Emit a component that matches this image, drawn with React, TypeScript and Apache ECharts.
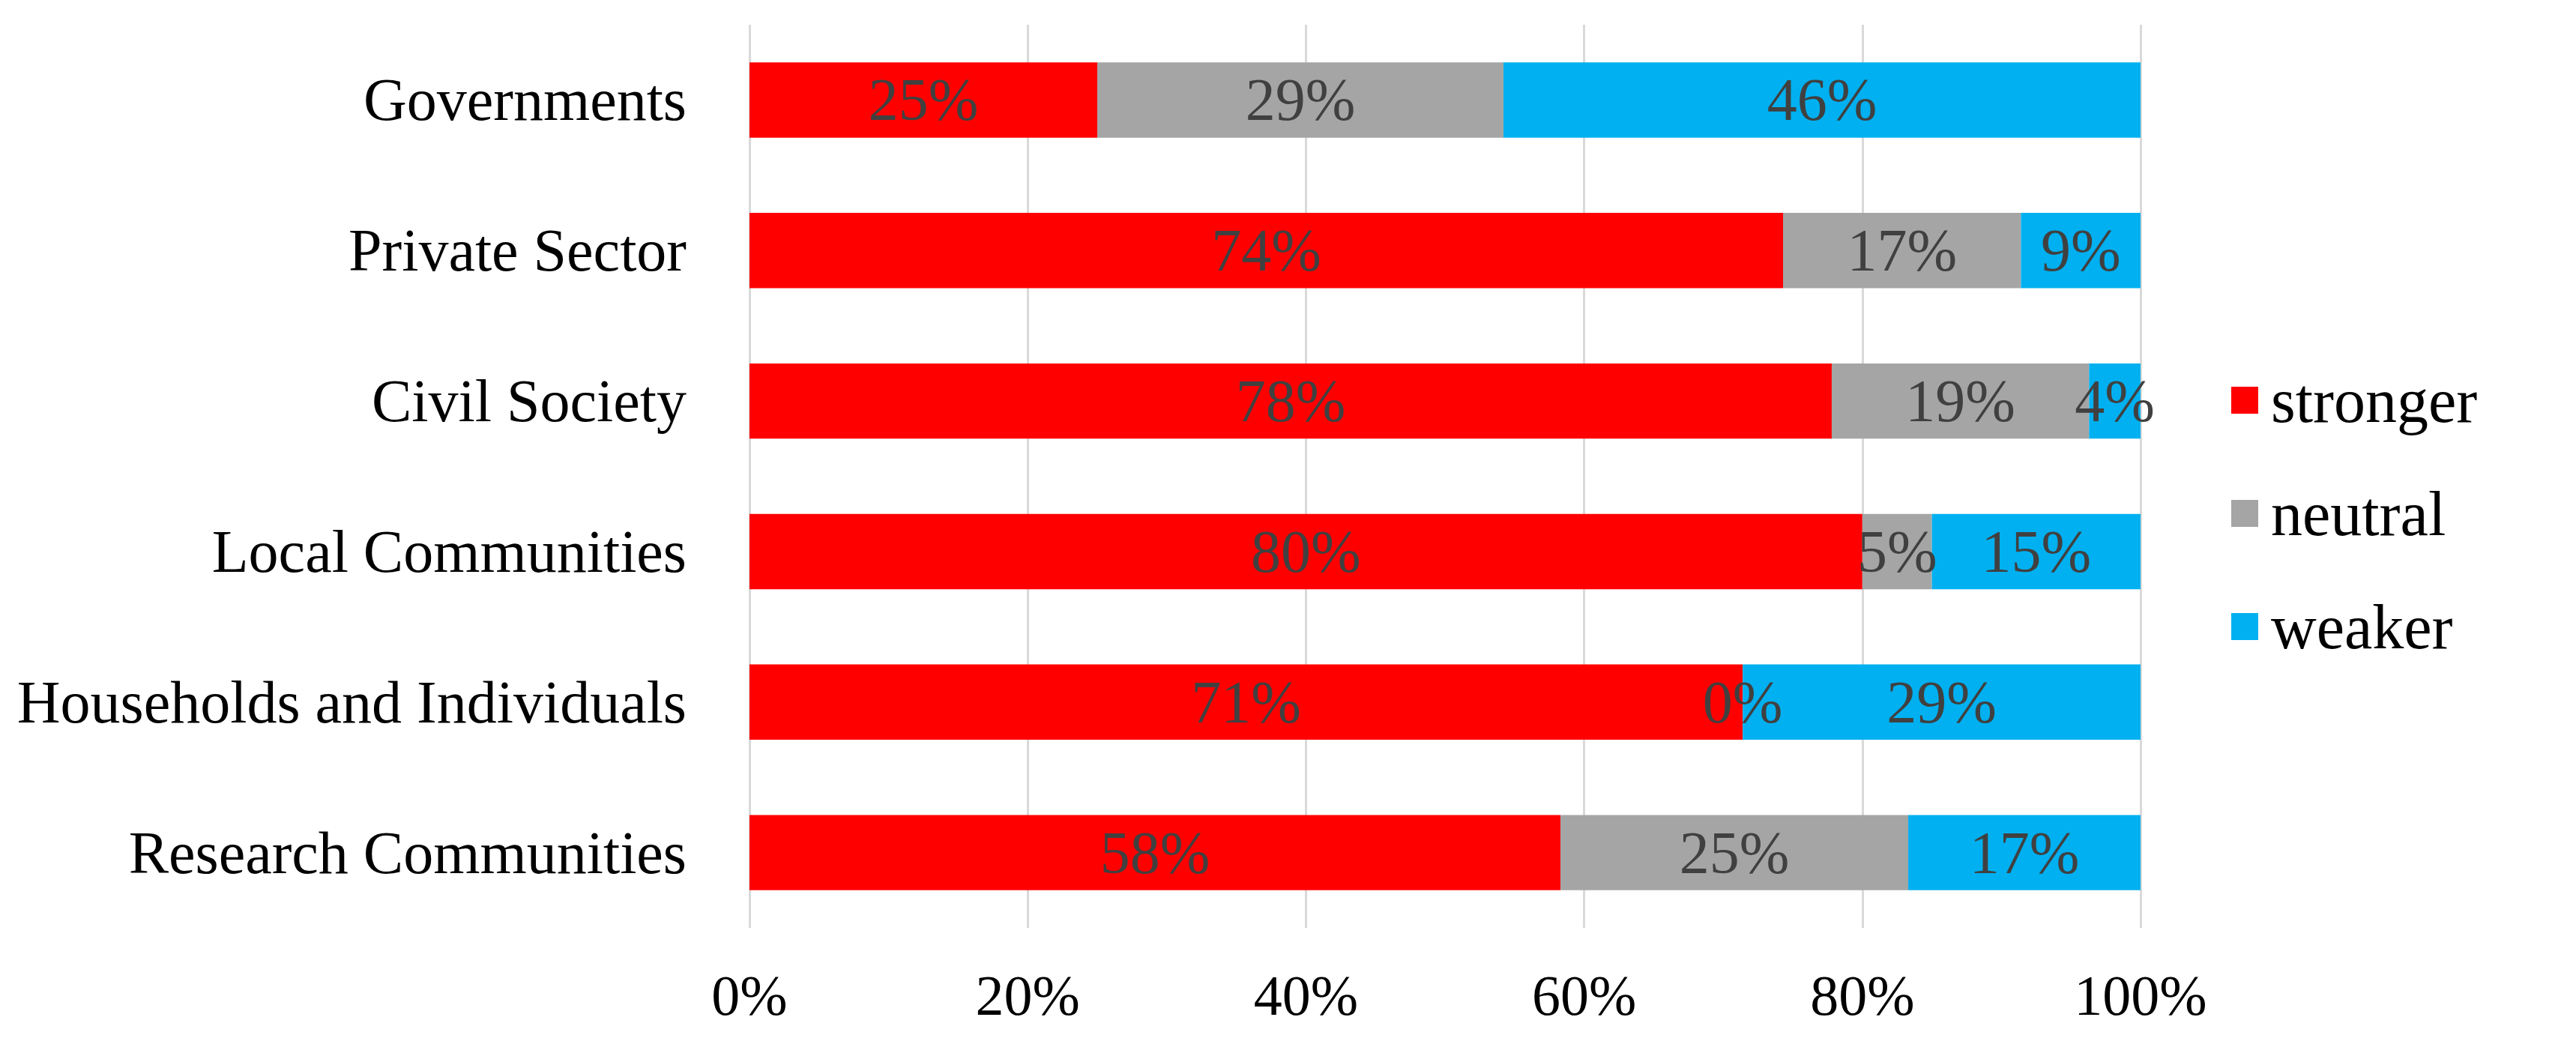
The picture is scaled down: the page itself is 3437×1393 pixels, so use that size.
import React, { useEffect, useRef } from "react";
import * as echarts from "echarts";

const categories = [
  "Governments",
  "Private Sector",
  "Civil Society",
  "Local Communities",
  "Households and Individuals",
  "Research Communities",
];
const seriesNames = ["stronger", "neutral", "weaker"];
const stronger = [25.0, 74.3, 77.8, 80.0, 71.4, 58.3];
const neutral = [29.2, 17.1, 18.5, 5.0, 0.0, 25.0];
const weaker = [45.8, 8.6, 3.7, 15.0, 28.6, 16.7];
const colors = ["#FF0000", "#A5A5A5", "#00B0F0"];
const xTicks = [0, 20, 40, 60, 80, 100];

const FONT = "Liberation Serif";

export default function App() {
  const ref = useRef<HTMLDivElement>(null);
  useEffect(() => {
    if (!ref.current) return;
    const chart = echarts.init(ref.current, null, { renderer: "svg" });
    const values = [stronger, neutral, weaker];
    chart.setOption({
      animation: false,
      backgroundColor: "#ffffff",
      grid: { left: 1000, right: 581, top: 33, bottom: 155, containLabel: false },
      legend: {
        orient: "vertical",
        left: 2972,
        top: 487,
        itemWidth: 36,
        itemHeight: 36,
        itemGap: 67,
        icon: "rect",
        data: seriesNames,
        textStyle: {
          fontFamily: FONT,
          fontSize: 84,
          color: "#000000",
          lineHeight: 84,
          padding: [0, 0, 0, 12],
        },
      },
      xAxis: {
        type: "value",
        min: xTicks[0],
        max: xTicks[xTicks.length - 1],
        interval: 20,
        axisLine: { show: false },
        axisTick: { show: false },
        splitLine: { show: true, lineStyle: { color: "#D9D9D9", width: 3 } },
        axisLabel: {
          margin: 52,
          fontFamily: FONT,
          fontSize: 76,
          color: "#000000",
          formatter: (v: number) => `${v}%`,
        },
      },
      yAxis: {
        type: "category",
        inverse: true,
        data: categories,
        axisLine: { show: false },
        axisTick: { show: false },
        axisLabel: { margin: 84, fontFamily: FONT, fontSize: 80, color: "#000000" },
      },
      series: seriesNames.map((name, i) => ({
        name,
        type: "bar",
        stack: "total",
        barWidth: "50%",
        itemStyle: { color: colors[i] },
        label: {
          show: true,
          position: "inside",
          fontFamily: FONT,
          fontSize: 80,
          color: "#404040",
          formatter: (p: any) => `${Math.round(p.value)}%`,
        },
        data: values[i],
      })),
    });
    return () => chart.dispose();
  }, []);
  return (
    <div
      ref={ref}
      style={{ position: "absolute", left: 0, top: 0, width: 3437, height: 1393 }}
    />
  );
}
